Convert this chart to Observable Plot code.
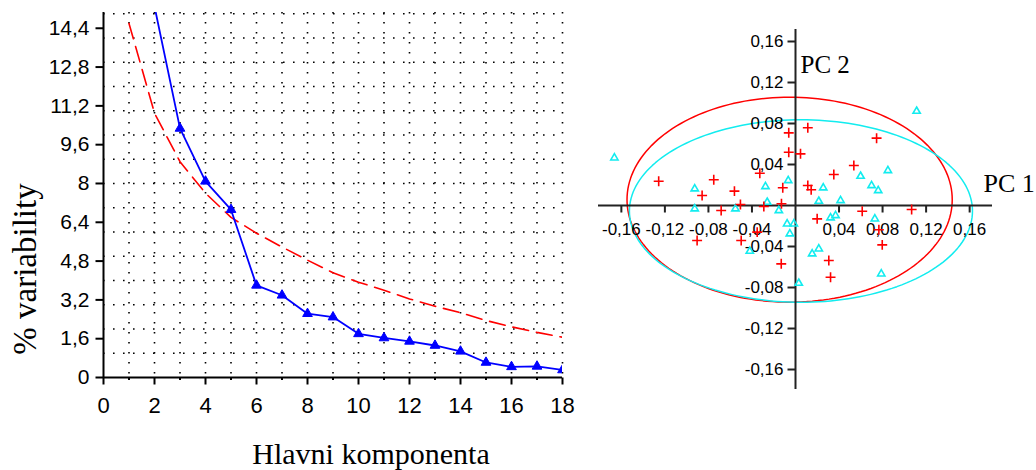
<!DOCTYPE html>
<html><head><meta charset="utf-8">
<script src="https://cdn.jsdelivr.net/npm/d3@7"></script>
<script src="https://cdn.jsdelivr.net/npm/@observablehq/plot@0.6"></script>
<style>
html,body{margin:0;padding:0;background:#fff;}
#wrap{position:relative;width:1036px;height:470px;overflow:hidden;}
#left{position:absolute;left:0;top:0;}
#right{position:absolute;left:590px;top:0;}
</style></head>
<body><div id="wrap"><div id="left"></div><div id="right"></div></div>
<script>
// ---------- Scree plot data ----------
const components = [1,2,3,4,5,6,7,8,9,10,11,12,13,14,15,16,17,18];
const explained  = [38, 15.3, 10.27, 8.09, 6.92, 3.80, 3.39, 2.63, 2.49, 1.80, 1.63, 1.49, 1.32, 1.08, 0.62, 0.44, 0.46, 0.31];
const reference  = [14.6, 10.9, 8.9, 7.6, 6.6, 5.95, 5.38, 4.84, 4.32, 3.93, 3.6, 3.24, 2.94, 2.67, 2.35, 2.09, 1.86, 1.66];
const screeXTicks = [0,2,4,6,8,10,12,14,16,18];
const screeXMinor = [1,3,5,7,9,11,13,15,17];
const screeYTicks = [0,1.6,3.2,4.8,6.4,8,9.6,11.2,12.8,14.4];
const screeYLabels = ["0","1,6","3,2","4,8","6,4","8","9,6","11,2","12,8","14,4"];
const screeGridX = [1,2,3,4,5,6,7,8,9,10,11,12,13,14,15,16,17,18];
const screeGridY = [1,2,3,4,5,6,7,8,9,10,11,12,13,14,15];
const screeXTitle = "Hlavni komponenta";
const screeYTitle = "% variability";

// ---------- PCA score plot data ----------
const redX = [-0.1257,-0.0751,-0.0858,-0.0683,-0.0062,0.0113,-0.0062,0.0046,-0.0328,-0.0561,-0.0117,0.0113,0.0144,0.0352,-0.0506,-0.0291,-0.0129,0.0199,0.0745,0.0536,0.0613,0.1067,-0.0904,-0.0499,-0.0352,-0.0131,0.0766,0.0797,0.0306,0.0322];
const redY = [0.0237,0.0251,0.0098,-0.0049,0.0709,0.0758,0.0520,0.0504,0.0315,0.0140,0.0173,0.0195,0.0153,0.0302,0.0010,-0.0010,0.0017,-0.0130,0.0657,0.0390,-0.0056,-0.0039,-0.0341,-0.0341,-0.0260,-0.0569,-0.0237,-0.0384,-0.0537,-0.0700];
const cyanX = [-0.1664,-0.0926,-0.0926,-0.0276,-0.0067,0.0255,0.0214,0.0414,-0.0552,-0.0260,-0.0153,0.0322,0.0368,0.1113,0.0598,0.0849,0.0699,0.0760,0.0729,-0.0077,-0.0015,-0.0052,-0.0420,0.0030,0.0214,0.0153,0.0788];
const cyanY = [0.0465,0.0163,-0.0032,0.0185,0.0244,0.0173,0.0042,0.0049,-0.0032,0.0032,-0.0049,-0.0120,-0.0098,0.0920,0.0286,0.0341,0.0195,0.0146,-0.0130,-0.0179,-0.0179,-0.0276,-0.0446,-0.0758,-0.0423,-0.0471,-0.0667];
const ellipseCX = [-0.0054, 0.0050];
const ellipseCY = [0.0057, -0.0054];
const ellipseRX = [0.1494, 0.1576];
const ellipseRY = [0.1000, 0.0890];
const pcaXTicks = [-0.16,-0.12,-0.08,-0.04,0.04,0.08,0.12,0.16];
const pcaXLabels = ["-0,16","-0,12","-0,08","-0,04","0,04","0,08","0,12","0,16"];
const pcaYTicks = [0.16,0.12,0.08,0.04,-0.04,-0.08,-0.12,-0.16];
const pcaYLabels = ["0,16","0,12","0,08","0,04","-0,04","-0,08","-0,12","-0,16"];
const pcaAxisNames = ["PC 1","PC 2"];

const RED = "#ff0000", BLUE = "#0000ff", CYAN = "#12ecef";

// custom tick symbols
const tickLeft  = {draw(c){c.moveTo(0,0); c.lineTo(-8,0);}};
const tickDown  = {draw(c){c.moveTo(0,0); c.lineTo(0,7);}};
const tickDownS = {draw(c){c.moveTo(0,0); c.lineTo(0,2.5);}};

// ---------- Left: scree plot ----------
const scree = components.map((c,i)=>({c, v: explained[i], r: reference[i]}));
const left = Plot.plot({
  width: 600, height: 470,
  marginLeft: 103, marginRight: 38, marginTop: 12, marginBottom: 93,
  x: {domain: [0, 18], axis: null},
  y: {domain: [0, 15.05], axis: null},
  style: {fontFamily: "'Liberation Sans', Arial, sans-serif", background: "transparent", overflow: "visible", color: "#000"},
  marks: [
    Plot.ruleX(screeGridX, {stroke: "#000", strokeWidth: 1.6, strokeDasharray: "1.6,8.4"}),
    Plot.ruleY(screeGridY, {stroke: "#000", strokeWidth: 1.6, strokeDasharray: "1.6,8.4"}),
    Plot.line(scree, {x: "c", y: "r", stroke: RED, strokeWidth: 1.6, strokeDasharray: "16,8", clip: true}),
    Plot.line(scree, {x: "c", y: "v", stroke: BLUE, strokeWidth: 1.8, clip: true}),
    Plot.dot(scree, {x: "c", y: "v", symbol: "triangle", r: 3.6, fill: BLUE, stroke: BLUE, strokeWidth: 1, clip: true}),
    Plot.ruleX([0], {stroke: "#000", strokeWidth: 2}),
    Plot.ruleY([0], {stroke: "#000", strokeWidth: 2}),
    Plot.dot(screeYTicks, {x: 0, y: d => d, symbol: tickLeft, stroke: "#000", strokeWidth: 2}),
    Plot.dot(screeXTicks, {x: d => d, y: 0, symbol: tickDown, stroke: "#000", strokeWidth: 2}),
    Plot.dot(screeXMinor, {x: d => d, y: 0, symbol: tickDownS, stroke: "#000", strokeWidth: 2}),
    Plot.text(screeYTicks, {x: 0, y: d => d, text: (d,i) => screeYLabels[i], textAnchor: "end", dx: -14, fontSize: 21, fill: "#000"}),
    Plot.text(screeXTicks, {x: d => d, y: 0, text: d => String(d), dy: 28, fontSize: 22, fill: "#000"}),
    Plot.text([screeXTitle], {frameAnchor: "bottom", text: d => d, textAnchor: "middle", lineAnchor: "middle", dx: 38, dy: 77, fontSize: 30, fontFamily: "'Liberation Serif', 'Times New Roman', serif", fill: "#000"}),
    Plot.text([screeYTitle], {frameAnchor: "left", text: d => d, textAnchor: "middle", lineAnchor: "middle", rotate: -90, dx: -78, dy: 74, fontSize: 33, fontFamily: "'Liberation Serif', 'Times New Roman', serif", fill: "#000"})
  ]
});
document.getElementById("left").appendChild(left);

// ---------- Right: PCA scores ----------
const reds = redX.map((x,i)=>({x, y: redY[i]}));
const cyans = cyanX.map((x,i)=>({x, y: cyanY[i]}));
function outline(k){
  const pts = [];
  for (let a = 0; a <= 360; a += 2) {
    const t = a * Math.PI / 180;
    pts.push({x: ellipseCX[k] + ellipseRX[k]*Math.cos(t), y: ellipseCY[k] + ellipseRY[k]*Math.sin(t)});
  }
  return pts;
}
const right = Plot.plot({
  width: 446, height: 470,
  marginLeft: 8, marginRight: 44, marginTop: 29, marginBottom: 81,
  x: {domain: [-0.181, 0.181], axis: null},
  y: {domain: [-0.1795, 0.1717], axis: null},
  style: {fontFamily: "'Liberation Sans', Arial, sans-serif", background: "transparent", overflow: "visible", color: "#000"},
  marks: [
    Plot.line(outline(0), {x: "x", y: "y", stroke: RED, strokeWidth: 1.5}),
    Plot.line(outline(1), {x: "x", y: "y", stroke: CYAN, strokeWidth: 1.5}),
    Plot.ruleX([0], {stroke: "#222", strokeWidth: 2}),
    Plot.ruleY([0], {stroke: "#222", strokeWidth: 2}),
    Plot.dot(pcaXTicks, {x: d => d, y: 0, symbol: tickDown, stroke: "#222", strokeWidth: 2}),
    Plot.dot(pcaYTicks, {x: 0, y: d => d, symbol: tickLeft, stroke: "#222", strokeWidth: 2}),
    Plot.text(pcaXTicks, {x: d => d, y: 0, text: (d,i) => pcaXLabels[i], dy: 24, fontSize: 17, fill: "#000"}),
    Plot.text(pcaYTicks, {x: 0, y: d => d, text: (d,i) => pcaYLabels[i], textAnchor: "end", dx: -12, fontSize: 17, fill: "#000"}),
    Plot.dot(cyans, {x: "x", y: "y", symbol: "triangle", r: 2.7, fill: "none", stroke: CYAN, strokeWidth: 1.6}),
    Plot.dot(reds, {x: "x", y: "y", symbol: "plus", r: 3.3, stroke: RED, strokeWidth: 1.6}),
    Plot.text([pcaAxisNames[1]], {x: 0, frameAnchor: "top", text: d => d, textAnchor: "start", lineAnchor: "bottom", dx: 5, dy: 43, fontSize: 25, fontFamily: "'Liberation Serif', 'Times New Roman', serif", fill: "#000"}),
    Plot.text([pcaAxisNames[0]], {y: 0, frameAnchor: "right", text: d => d, textAnchor: "start", lineAnchor: "bottom", dx: -9, dy: -14, fontSize: 26, fontFamily: "'Liberation Serif', 'Times New Roman', serif", fill: "#000"})
  ]
});
document.getElementById("right").appendChild(right);
</script>
</body></html>
